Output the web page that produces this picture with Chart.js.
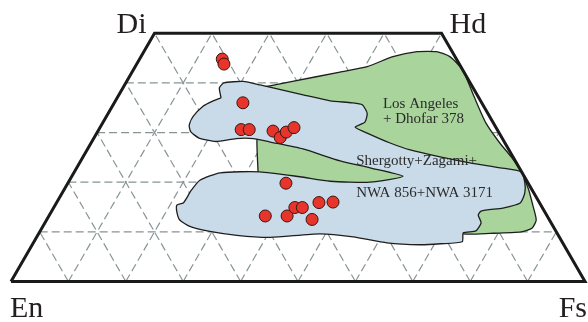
<!DOCTYPE html>
<html>
<head>
<meta charset="utf-8">
<script src="https://cdn.jsdelivr.net/npm/chart.js@4.4.1/dist/chart.umd.min.js"></script>
<style>
  html, body { margin: 0; padding: 0; background: #fff; }
  canvas { display: block; }
</style>
</head>
<body>
<canvas id="quad" width="588" height="322"></canvas>
<script>
// Pyroxene quadrilateral En-Fs-Di-Hd. All compositions are [Fs, Wo] in mol %.
const woTicks = [10, 20, 30, 40];
const fsTicks = [10, 20, 30, 40, 50, 60, 70, 80, 90];
const enTicks = [10, 20, 30, 40, 50, 60, 70, 80, 90];

const frameCorners = [[0, 0], [100, 0], [50, 50], [0, 50], [0, 0]];

const sampleFs = [14.4, 15.2, 22.4, 24.8, 26.2, 30.5, 32.4, 32.9, 33.8, 38.0, 37.7, 41.5, 42.0, 43.3, 46.2, 45.7, 48.1];
const sampleWo = [44.8, 43.8, 36.0, 30.6, 30.6, 30.3, 29.0, 30.1, 31.0, 19.8, 13.2, 13.2, 14.9, 14.9, 12.5, 15.9, 16.0];

// Los Angeles + Dhofar 378 field
const losAngelesField = [
  [32.1, 21.9], [28.6, 28.5], [24.2, 39.0], [25.4, 39.4], [28.5, 40.2], [36.2, 42.2],
  [40.4, 43.3], [43.9, 45.3], [47.6, 46.3], [51.0, 46.3], [53.8, 45.3], [57.4, 42.6],
  [62.0, 37.3], [66.8, 31.9], [71.2, 27.9], [74.6, 25.1], [77.4, 22.5], [80.7, 18.8],
  [83.2, 15.4], [85.3, 12.4], [85.4, 10.8], [83.9, 10.0], [78.6, 9.7], [74.0, 9.6],
  [65.6, 11.4], [49.1, 16.4], [32.1, 21.9]
];

// Shergotty + Zagami + NWA 856 + NWA 3171 field
const shergottyField = [
  [18.1, 37.0], [16.8, 39.0], [17.1, 40.0], [20.3, 40.3], [23.6, 39.6], [32.1, 37.6],
  [37.4, 36.4], [41.4, 36.0], [43.4, 35.6], [45.1, 33.9], [45.6, 32.1], [44.4, 31.1],
  [47.1, 29.9], [52.1, 27.9], [56.3, 26.5], [62.2, 25.1], [68.0, 23.9], [73.8, 22.9],
  [77.8, 22.1], [79.5, 20.0], [80.6, 17.8], [80.8, 15.8], [78.3, 14.8], [74.8, 14.2],
  [74.7, 13.4], [76.0, 11.8], [75.9, 10.2], [73.9, 9.8], [74.6, 8.0], [71.0, 7.6],
  [67.6, 7.4], [61.6, 7.8], [55.1, 9.0], [49.0, 9.6], [40.7, 8.9], [34.7, 9.3],
  [29.6, 10.1], [25.6, 11.1], [23.2, 12.4], [21.9, 14.0], [21.2, 15.4], [22.1, 15.8],
  [22.2, 17.0], [22.2, 18.2], [22.7, 20.4], [25.5, 21.9], [32.3, 22.1], [39.8, 21.1],
  [45.5, 20.2], [52.5, 20.0], [57.7, 21.2], [51.1, 22.9], [45.2, 24.3], [37.5, 26.7],
  [31.1, 28.1], [27.8, 28.8], [24.8, 28.8], [21.6, 28.2], [18.3, 28.9], [16.2, 30.2],
  [15.3, 31.5], [15.1, 33.2], [15.8, 35.3], [16.9, 36.3], [18.1, 37.0]
];

const apexLabels = [
  { text: 'Di', at: [0, 50] },
  { text: 'Hd', at: [50, 50] },
  { text: 'En', at: [0, 0] },
  { text: 'Fs', at: [100, 0] }
];
const fieldLabels = [
  { text: 'Los Angeles', at: [47.3, 35.0] },
  { text: '+ Dhofar 378', at: [48.8, 32.0] },
  { text: 'Shergotty+Zagami+', at: [48.4, 23.5] },
  { text: 'NWA 856+NWA 3171', at: [51.6, 17.1] }
];

// ternary -> cartesian (x along En-Fs base, y = Wo)
const toXY = ([fs, wo]) => ({ x: fs + wo / 2, y: wo });

const gridStyle = {
  borderColor: '#889494', borderWidth: 1.2, borderDash: [8, 4],
  pointRadius: 0, fill: false, tension: 0, order: 4
};

const gridSets = [];
woTicks.forEach(w => gridSets.push({ ...gridStyle, data: [[0, w], [100 - w, w]].map(toXY) }));
fsTicks.forEach(f => gridSets.push({ ...gridStyle, data: [[f, 0], [f, Math.min(50, 100 - f)]].map(toXY) }));
enTicks.forEach(e => gridSets.push({ ...gridStyle, data: [[100 - e, 0], [Math.max(50 - e, 0), Math.min(50, 100 - e)]].map(toXY) }));

const textPlugin = {
  id: 'quadText',
  afterDatasetsDraw(chart) {
    const { ctx, scales: { x, y } } = chart;
    const px = ([f, w]) => [x.getPixelForValue(f + w / 2), y.getPixelForValue(w)];
    ctx.save();
    ctx.textBaseline = 'alphabetic';
    ctx.fillStyle = '#231f20';
    ctx.font = '30px "Liberation Serif"';
    // offsets of each vertex label from its corner
    const offs = [[-8, 0, 'right'], [8, 0, 'left'], [-1, 36, 'left'], [2, 36, 'right']];
    apexLabels.forEach((l, i) => {
      const [cx, cy] = px(l.at);
      ctx.textAlign = offs[i][2];
      ctx.fillText(l.text, cx + offs[i][0], cy + offs[i][1]);
    });
    ctx.fillStyle = '#2b2b2b';
    ctx.font = '15px "Liberation Serif"';
    ctx.textAlign = 'left';
    fieldLabels.forEach(l => {
      const [cx, cy] = px(l.at);
      ctx.fillText(l.text, cx, cy);
    });
    ctx.restore();
  }
};

new Chart(document.getElementById('quad'), {
  type: 'line',
  data: {
    datasets: [
      {
        data: sampleFs.map((f, i) => toXY([f, sampleWo[i]])),
        showLine: false, pointRadius: 6, pointHoverRadius: 6,
        backgroundColor: '#e8352b', borderColor: '#3a1512', borderWidth: 1, order: 0
      },
      {
        data: frameCorners.map(toXY),
        borderColor: '#1a1a1a', borderWidth: 3, pointRadius: 0, fill: false, tension: 0, order: 1
      },
      {
        data: shergottyField.map(toXY),
        borderColor: '#1e1e1e', borderWidth: 1.3, backgroundColor: '#c9dbe9',
        fill: 'shape', pointRadius: 0, tension: 0.2, order: 2
      },
      {
        data: losAngelesField.map(toXY),
        borderColor: '#1e1e1e', borderWidth: 1.3, backgroundColor: '#a9d59c',
        fill: 'shape', pointRadius: 0, tension: 0.2, order: 3
      },
      ...gridSets
    ]
  },
  options: {
    responsive: false,
    animation: false,
    devicePixelRatio: 1,
    events: [],
    layout: { padding: 0, autoPadding: false },
    plugins: { legend: { display: false }, tooltip: { enabled: false } },
    scales: {
      x: { type: 'linear', display: false, min: -1.916, max: 100.52 },
      y: { type: 'linear', display: false, min: -8.16, max: 56.71 }
    }
  },
  plugins: [textPlugin]
});
</script>
</body>
</html>
